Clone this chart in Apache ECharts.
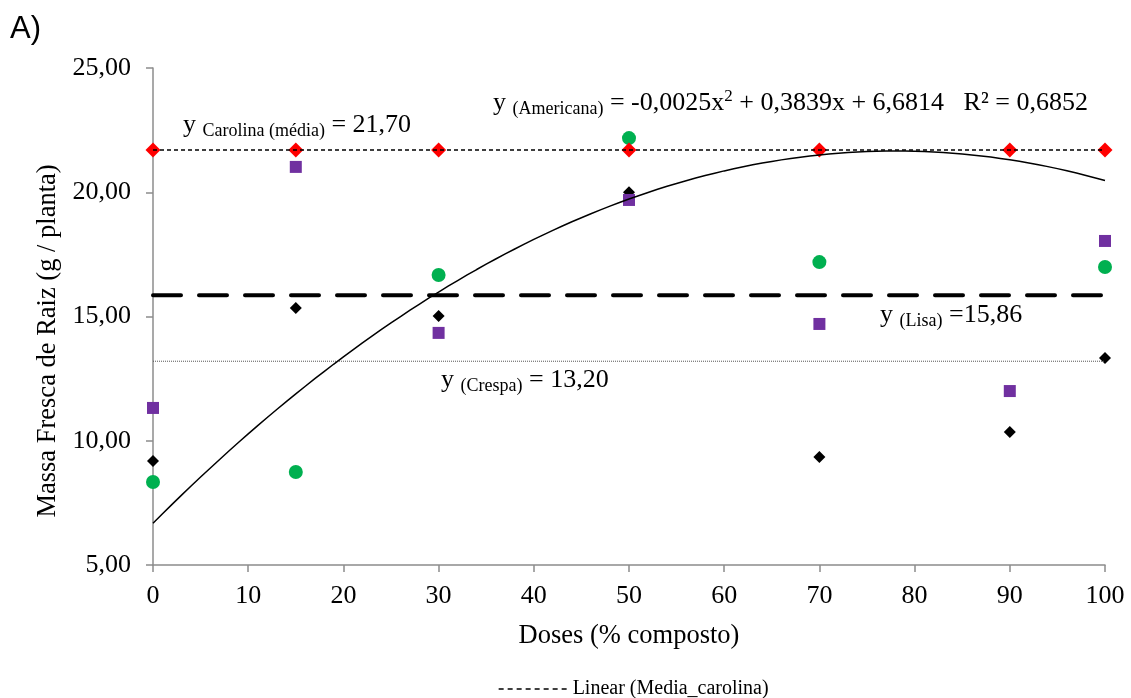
<!DOCTYPE html>
<html>
<head>
<meta charset="utf-8">
<script src="https://cdn.jsdelivr.net/npm/echarts@6/dist/echarts.min.js"></script>
<style>
  html, body { margin: 0; padding: 0; background: #fff; }
  #chart { width: 1131px; height: 698px; }
</style>
</head>
<body>
<div id="chart"></div>
<script>
// Doses of compost (%) and fresh root mass (g / plant) per lettuce cultivar
const doses = [0, 15, 30, 50, 70, 90, 100];
const carolina = [21.70, 21.70, 21.70, 21.70, 21.70, 21.70, 21.70];
const lisa = [11.32, 21.02, 14.34, 19.69, 14.70, 12.00, 18.04];
const americana = [8.34, 8.74, 16.67, 22.18, 17.19, null, 16.99];
const crespa = [9.19, 15.34, 15.02, 20.00, 9.35, 10.35, 13.33];

// Fitted lines stated in the annotations
const carolinaMean = 21.70;
const lisaMean = 15.86;
const crespaMean = 13.20;
const americanaFit = [-0.00246, 0.3839, 6.6814]; // a·x² + b·x + c (label shows 4 decimals)
const americanaR2 = 0.6852;
const xTicks = [0, 10, 20, 30, 40, 50, 60, 70, 80, 90, 100];
const yTicks = [5, 10, 15, 20, 25];

const SERIF = '"Liberation Serif", "Times New Roman", serif';

function pairs(values) {
  return doses.map((d, i) => [d, values[i]]).filter(p => p[1] !== null);
}
function flat(v) {
  return [[xTicks[0], v], [xTicks[xTicks.length - 1], v]];
}
function fitCurve() {
  const pts = [];
  for (let x = xTicks[0]; x <= xTicks[xTicks.length - 1]; x += 1) {
    pts.push([x, americanaFit[0] * x * x + americanaFit[1] * x + americanaFit[2]]);
  }
  return pts;
}
const comma = (v, d = 2) => v.toFixed(d).replace('.', ',');

const main = { fontSize: 26, fontFamily: SERIF, color: '#000', lineHeight: 30 };
const sub = { fontSize: 18, fontFamily: SERIF, color: '#000', lineHeight: 16, verticalAlign: 'bottom' };
const sup = { fontSize: 17, fontFamily: SERIF, color: '#000', lineHeight: 17, verticalAlign: 'top' };
function note(x, top, text) {
  return {
    type: 'text', left: x, top: top, z: 50,
    style: { text: text, rich: { m: main, s: sub, p: sup }, fill: '#000' }
  };
}

const americanaText =
  '{m|y }{s|(Americana)}{m| = ' + comma(americanaFit[0], 4) + 'x}{p|2}' +
  '{m| + ' + comma(americanaFit[1], 4) + 'x + ' + comma(americanaFit[2], 4) +
  '   R² = ' + comma(americanaR2, 4) + '}';

const chart = echarts.init(document.getElementById('chart'));
chart.setOption({
  animation: false,
  backgroundColor: '#fff',
  grid: { left: 153, right: 26, top: 68, bottom: 133, containLabel: false },
  xAxis: {
    type: 'value', min: 0, max: 100, interval: 10,
    name: 'Doses (% composto)', nameLocation: 'middle', nameGap: 58,
    nameTextStyle: { fontSize: 26.5, fontFamily: SERIF, color: '#000' },
    axisLine: { lineStyle: { color: '#8c8c8c', width: 1.5 } },
    axisTick: { show: true, length: 7, lineStyle: { color: '#8c8c8c', width: 1.5 } },
    axisLabel: { fontSize: 26, fontFamily: SERIF, color: '#000', margin: 18 },
    splitLine: { show: false }
  },
  yAxis: {
    type: 'value', min: 5, max: 25, interval: 5,
    axisLine: { show: true, lineStyle: { color: '#8c8c8c', width: 1.5 } },
    axisTick: { show: true, length: 7, lineStyle: { color: '#8c8c8c', width: 1.5 } },
    axisLabel: { fontSize: 26, fontFamily: SERIF, color: '#000', margin: 22, formatter: v => comma(v) },
    splitLine: { show: false }
  },
  legend: {
    data: ['Linear (Media_carolina)'],
    left: 493, top: 674,
    itemWidth: 69, itemHeight: 14, itemGap: 10,
    itemStyle: { opacity: 0 },
    lineStyle: { type: [5, 4], width: 1.3, color: '#000' },
    textStyle: { fontSize: 20, fontFamily: SERIF, color: '#000' }
  },
  title: {
    text: 'A)', left: 5, top: 9,
    textStyle: { fontSize: 31, fontWeight: 'normal', fontFamily: '"Liberation Sans", Arial, sans-serif', color: '#000' }
  },
  series: [
    { name: 'Crespa', type: 'scatter', data: pairs(crespa), symbol: 'diamond', symbolSize: 12,
      itemStyle: { color: '#000', opacity: 1 }, z: 2 },
    { name: 'Lisa', type: 'scatter', data: pairs(lisa), symbol: 'rect', symbolSize: 12,
      itemStyle: { color: '#7030a0', opacity: 1 }, z: 3 },
    { name: 'Americana', type: 'scatter', data: pairs(americana), symbol: 'circle', symbolSize: 14,
      itemStyle: { color: '#00b050', opacity: 1 }, z: 4 },
    { name: 'Carolina', type: 'scatter', data: pairs(carolina), symbol: 'diamond', symbolSize: 15,
      itemStyle: { color: '#ff0000', opacity: 1 }, z: 5 },
    { name: 'Linear (Media_carolina)', type: 'line', data: flat(carolinaMean), showSymbol: false, symbol: 'none',
      lineStyle: { color: '#000', width: 1.3, type: [4, 3] }, itemStyle: { color: '#000' }, z: 6 },
    { name: 'Media_lisa', type: 'line', data: flat(lisaMean), showSymbol: false, symbol: 'none',
      lineStyle: { color: '#000', width: 4, type: [28, 18], cap: 'round' }, z: 6 },
    { name: 'Media_crespa', type: 'line', data: flat(crespaMean), showSymbol: false, symbol: 'none',
      lineStyle: { color: '#555', width: 1, type: [1, 1] }, z: 6 },
    { name: 'Poly (Americana)', type: 'line', data: fitCurve(), showSymbol: false, symbol: 'none', smooth: false,
      lineStyle: { color: '#000', width: 1.5 }, z: 6 }
  ],
  graphic: [
    {
      type: 'text', x: 48, y: 341, rotation: Math.PI / 2, z: 50,
      style: { text: 'Massa Fresca de Raiz (g / planta)', fontSize: 26.5, fontFamily: SERIF, fill: '#000',
               align: 'center', verticalAlign: 'middle' }
    },
    note(183, 112, '{m|y }{s|Carolina (média)}{m| = ' + comma(carolinaMean) + '}'),
    note(493, 88, americanaText),
    note(880, 302, '{m|y }{s|(Lisa)}{m| =' + comma(lisaMean) + '}'),
    note(441, 367, '{m|y }{s|(Crespa)}{m| = ' + comma(crespaMean) + '}')
  ]
});
</script>
</body>
</html>
